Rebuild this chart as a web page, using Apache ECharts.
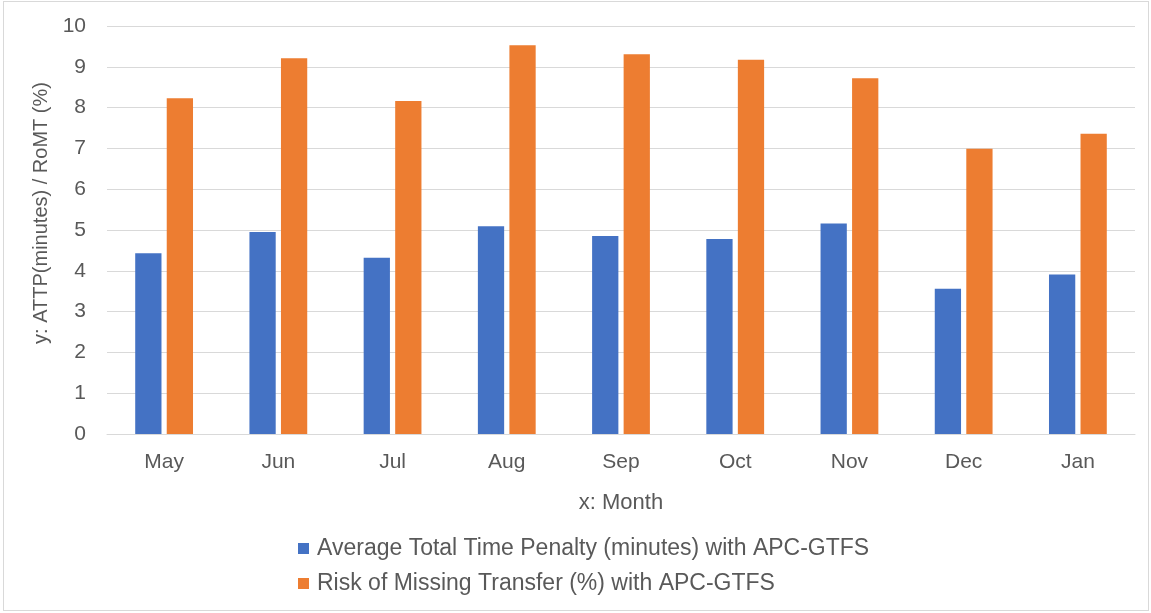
<!DOCTYPE html>
<html>
<head>
<meta charset="utf-8">
<script src="https://cdn.jsdelivr.net/npm/echarts@6/dist/echarts.min.js"></script>
<style>
  html, body { margin: 0; padding: 0; background: #fff; }
  #main { position: absolute; left: 3px; top: 1px; width: 1146px; height: 610px; border: 1px solid #d9d9d9; box-sizing: border-box; }
</style>
</head>
<body>
<div id="main"></div>
<script>
// months on the x axis
var months = ['May', 'Jun', 'Jul', 'Aug', 'Sep', 'Oct', 'Nov', 'Dec', 'Jan'];
// ATTP in minutes
var attp = [4.43, 4.95, 4.32, 5.09, 4.85, 4.78, 5.16, 3.56, 3.91];
// RoMT in percent
var romt = [8.23, 9.21, 8.16, 9.53, 9.31, 9.17, 8.72, 6.99, 7.36];
var seriesNames = [
  'Average Total Time Penalty (minutes) with APC-GTFS',
  'Risk of Missing Transfer (%) with APC-GTFS'
];

var chartDom = document.getElementById('main');
var myChart = echarts.init(chartDom);
var font = 'Liberation Sans, Arial, sans-serif';
var option = {
  animation: false,
  textStyle: { fontFamily: font, color: '#595959' },
  grid: { left: 103, right: 13, top: 24, bottom: 176 },
  legend: {
    orient: 'vertical',
    left: 289,
    top: 530,
    itemWidth: 11,
    itemHeight: 11,
    itemGap: 12,
    icon: 'rect',
    textStyle: { fontSize: 23, color: '#595959', fontFamily: font, padding: [0, 0, 0, 3] },
    data: seriesNames
  },
  xAxis: {
    type: 'category',
    data: months,
    name: 'x: Month',
    nameLocation: 'middle',
    nameGap: 58,
    nameTextStyle: { fontSize: 22, color: '#595959' },
    axisLine: { lineStyle: { color: '#d9d9d9' } },
    axisTick: { show: false },
    axisLabel: { fontSize: 21, color: '#595959', margin: 18 }
  },
  yAxis: {
    type: 'value',
    min: 0,
    max: 10,
    interval: 1,
    name: 'y: ATTP(minutes) / RoMT (%)',
    nameLocation: 'middle',
    nameGap: 54,
    nameTextStyle: { fontSize: 20, color: '#595959', padding: [0, 0, 0, 34] },
    axisLine: { show: false },
    axisTick: { show: false },
    axisLabel: { fontSize: 21, color: '#595959', margin: 21 },
    splitLine: { lineStyle: { color: '#d9d9d9' } }
  },
  series: [
    {
      name: seriesNames[0],
      type: 'bar',
      data: attp,
      barWidth: '23%',
      barGap: '20%',
      itemStyle: { color: '#4472C4' }
    },
    {
      name: seriesNames[1],
      type: 'bar',
      data: romt,
      barWidth: '23%',
      itemStyle: { color: '#ED7D31' }
    }
  ]
};

myChart.setOption(option);
window.addEventListener('resize', function () {
  myChart.resize();
});
</script>
</body>
</html>
